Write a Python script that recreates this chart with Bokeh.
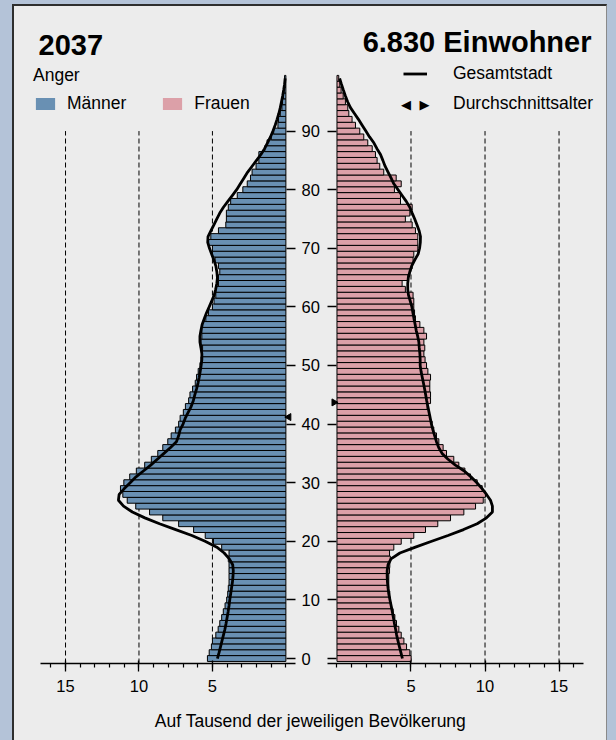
import numpy as np
from bokeh.plotting import figure
from bokeh.models import Range1d, FixedTicker, Legend, LegendItem, Label
from bokeh.layouts import row, column
from bokeh.embed import file_html
from bokeh.resources import INLINE

# ---------------- data ----------------
ages = list(range(100))

male = [5.34, 5.22, 5.07, 5.00, 4.77, 4.61, 4.50, 4.37, 4.26, 4.14,
        4.03, 3.96, 3.92, 3.87, 3.87, 3.87, 3.87, 3.92, 3.87, 4.37,
        4.93, 5.49, 6.28, 7.30, 8.38, 9.28, 10.22, 10.80, 11.10, 11.26,
        11.03, 10.63, 10.18, 9.61, 9.16, 8.72, 8.38, 8.04, 7.81, 7.52,
        7.30, 7.20, 6.98, 6.84, 6.62, 6.53, 6.35, 6.17, 6.08, 5.97,
        5.85, 5.78, 5.72, 5.67, 5.78, 5.72, 5.72, 5.67, 5.45, 5.27,
        5.00, 4.89, 4.77, 4.77, 4.59, 4.59, 4.50, 4.59, 4.82, 5.00,
        5.00, 5.27, 5.11, 4.59, 4.09, 4.05, 4.05, 3.92, 3.76, 3.31,
        2.93, 2.63, 2.41, 2.30, 2.03, 1.84, 1.84, 1.44, 1.28, 0.99,
        0.83, 0.54, 0.50, 0.38, 0.27, 0.23, 0.16, 0.14, 0.09, 0.09]

female = [5.01, 4.92, 4.70, 4.52, 4.34, 4.18, 4.02, 3.91, 3.79, 3.68,
          3.61, 3.57, 3.50, 3.50, 3.50, 3.55, 3.57, 3.60, 3.55, 3.84,
          4.34, 5.19, 5.98, 6.81, 7.67, 8.57, 9.36, 9.88, 10.03, 9.81,
          9.47, 9.02, 8.64, 8.23, 7.89, 7.40, 7.17, 6.88, 6.72, 6.54,
          6.43, 6.32, 6.20, 6.09, 6.32, 6.32, 6.27, 6.27, 6.32, 6.14,
          6.05, 5.95, 5.87, 5.93, 5.87, 6.05, 5.87, 5.60, 5.30, 5.24,
          5.19, 5.19, 5.14, 4.62, 4.40, 4.79, 4.92, 5.08, 5.14, 5.19,
          5.46, 5.46, 5.46, 5.30, 5.08, 4.62, 4.92, 5.08, 4.29, 4.29,
          3.88, 4.34, 4.00, 3.16, 2.89, 2.71, 2.60, 2.38, 2.08, 1.81,
          1.54, 1.25, 1.02, 0.80, 0.73, 0.57, 0.42, 0.28, 0.19, 0.12]

city_male = [4.66, 4.55, 4.45, 4.35, 4.25, 4.15, 4.07, 4.00, 3.93, 3.87,
             3.82, 3.76, 3.70, 3.64, 3.60, 3.58, 3.62, 3.85, 4.20, 4.70,
             5.50, 6.40, 7.50, 8.60, 9.60, 10.45, 11.05, 11.40, 11.35, 11.00,
             10.60, 10.20, 9.70, 9.20, 8.75, 8.30, 7.85, 7.45, 7.30, 7.20,
             7.00, 6.85, 6.65, 6.45, 6.30, 6.20, 6.08, 5.98, 5.90, 5.83,
             5.77, 5.72, 5.72, 5.78, 5.85, 5.85, 5.78, 5.70, 5.55, 5.40,
             5.22, 5.05, 4.88, 4.78, 4.70, 4.66, 4.70, 4.77, 4.90, 5.05,
             5.20, 5.32, 5.30, 5.10, 4.90, 4.70, 4.50, 4.25, 3.95, 3.65,
             3.35, 3.10, 2.85, 2.60, 2.30, 2.00, 1.70, 1.45, 1.25, 1.05,
             0.88, 0.73, 0.60, 0.48, 0.38, 0.30, 0.22, 0.15, 0.09, 0.05]

city_female = [4.42, 4.32, 4.22, 4.12, 4.03, 3.96, 3.88, 3.81, 3.74, 3.66,
               3.58, 3.50, 3.45, 3.41, 3.39, 3.39, 3.45, 3.65, 4.25, 5.30,
               6.40, 7.50, 8.55, 9.47, 10.10, 10.50, 10.50, 10.37, 10.10, 9.80,
               9.45, 9.05, 8.60, 8.00, 7.50, 7.10, 6.87, 6.72, 6.60, 6.48,
               6.38, 6.30, 6.22, 6.14, 6.06, 5.99, 5.92, 5.84, 5.76, 5.68,
               5.62, 5.62, 5.60, 5.56, 5.53, 5.45, 5.35, 5.28, 5.20, 5.13,
               5.06, 4.95, 4.83, 4.78, 4.78, 4.82, 4.92, 5.05, 5.25, 5.48,
               5.58, 5.63, 5.64, 5.55, 5.40, 5.25, 5.08, 4.92, 4.68, 4.40,
               4.12, 3.84, 3.65, 3.45, 3.25, 3.10, 2.94, 2.70, 2.49, 2.20,
               1.95, 1.70, 1.45, 1.18, 0.91, 0.72, 0.57, 0.43, 0.30, 0.18]

mean_age_male = 41.2
mean_age_female = 43.7

x_ticks = [5, 10, 15]
x_minor_ticks = list(range(0, 17))
age_ticks = list(range(0, 100, 10))

year_text = "2037"
total_text = "6.830 Einwohner"
district_text = "Anger"
label_male = "Männer"
label_female = "Frauen"
label_city = "Gesamtstadt"
label_mean = "Durchschnittsalter"
x_label = "Auf Tausend der jeweiligen Bevölkerung"

# ---------------- style ----------------
FONT = "Liberation Sans"
BG = "#ececec"
PAGE = "#b4c3d8"
MALE = "#6990b3"
FEMALE = "#dca0a8"
TICK_FS = "16.5px"
TEXT_FS = "17.5px"
marker_gap = 0.2

Y_RANGE = (-0.85, 101.7)
FIG_H = 697
L_AXIS_BOUNDS = (-0.655, 16.71)
R_AXIS_BOUNDS = (-0.64, 16.66)


def style_fig(p, labels_on_y, bounds):
    p.background_fill_color = BG
    p.border_fill_color = BG
    p.outline_line_color = None
    p.grid.visible = False
    xa = p.xaxis[0]
    xa.bounds = bounds
    xa.ticker = FixedTicker(ticks=x_ticks, minor_ticks=x_minor_ticks)
    xa.axis_line_color = "black"
    xa.axis_line_width = 1.3
    xa.major_tick_line_color = "black"
    xa.major_tick_line_width = 1.3
    xa.minor_tick_line_color = "black"
    xa.minor_tick_line_width = 1.2
    xa.major_tick_in = 3
    xa.major_tick_out = 8
    xa.minor_tick_in = 0
    xa.minor_tick_out = 4
    xa.major_label_standoff = 8
    xa.major_label_text_font = FONT
    xa.major_label_text_font_size = TICK_FS
    xa.major_label_text_color = "black"
    ya = p.yaxis[0]
    ya.ticker = FixedTicker(ticks=age_ticks, minor_ticks=[])
    ya.axis_line_color = None
    ya.major_tick_line_color = "black"
    ya.major_tick_line_width = 1.3
    ya.major_tick_in = 9
    ya.major_tick_out = 0
    ya.minor_tick_line_color = None
    ya.major_label_text_font = FONT
    ya.major_label_text_font_size = TICK_FS
    if labels_on_y:
        ya.major_label_text_color = "black"
        ya.major_label_standoff = 6
    else:
        ya.major_label_overrides = {t: "" for t in age_ticks}
        ya.major_label_text_color = None
        ya.major_label_standoff = 0


def style_title(p, text, align, offset, standoff):
    p.title.text = text
    p.title.align = align
    p.title.offset = offset
    p.title.text_font = FONT
    p.title.text_font_size = "29px"
    p.title.text_font_style = "bold"
    p.title.text_color = "black"
    p.title.standoff = standoff


def add_gridlines(p):
    n = len(x_ticks)
    p.segment(x0=x_ticks, x1=x_ticks, y0=[Y_RANGE[0]] * n, y1=[age_ticks[-1]] * n,
              line_color="black", line_width=1, line_dash="5 3")


# ---------------- left (Männer) ----------------
pl = figure(width=308, height=FIG_H, x_range=Range1d(17.52, -0.655), y_range=Range1d(*Y_RANGE),
            toolbar_location=None, output_backend="svg", y_axis_location="right",
            min_border_left=14, min_border_right=25, min_border_top=56, min_border_bottom=40)
style_fig(pl, True, L_AXIS_BOUNDS)
style_title(pl, year_text, "left", 10, 16)

add_gridlines(pl)
pl.hbar(y=ages, left=0, right=male, height=1, fill_color=MALE, line_color="black", line_width=1)
pl.line(x=city_male, y=ages, line_color="black", line_width=2.8)
pl.scatter(x=[-marker_gap], y=[mean_age_male], marker="triangle", angle=np.pi / 2, size=7,
           fill_color="black", line_color="black")

# zero-length bars used only as legend swatches (no outline)
dm = pl.hbar(y=[0], left=[0], right=[0], height=1, fill_color=MALE, line_color=None)
df = pl.hbar(y=[0], left=[0], right=[0], height=1, fill_color=FEMALE, line_color=None)
leg_l = Legend(items=[LegendItem(label=label_male, renderers=[dm]),
                      LegendItem(label=label_female, renderers=[df])],
               orientation="horizontal", title=district_text, location=(5, 549),
               background_fill_alpha=0, border_line_color=None, padding=0, margin=0,
               spacing=34, glyph_width=24, glyph_height=15, label_standoff=10,
               label_text_font=FONT, label_text_font_size=TEXT_FS, label_text_color="black",
               title_text_font=FONT, title_text_font_size=TEXT_FS, title_text_font_style="normal",
               title_text_color="black", title_standoff=7)
pl.add_layout(leg_l)

# ---------------- right (Frauen) ----------------
pr = figure(width=284, height=FIG_H, x_range=Range1d(-0.64, 17.80), y_range=Range1d(*Y_RANGE),
            toolbar_location=None, output_backend="svg", y_axis_location="left",
            min_border_left=5, min_border_right=6, min_border_top=56, min_border_bottom=40)
style_fig(pr, False, R_AXIS_BOUNDS)
style_title(pr, total_text, "right", 9, 10)

add_gridlines(pr)
pr.hbar(y=ages, left=0, right=female, height=1, fill_color=FEMALE, line_color="black", line_width=1)
line_f = pr.line(x=city_female, y=ages, line_color="black", line_width=2.8)
pr.scatter(x=[-marker_gap], y=[mean_age_female], marker="triangle", angle=-np.pi / 2, size=7,
           fill_color="black", line_color="black")

dmean = pr.scatter(x=[0], y=[0], marker="triangle", size=1, fill_alpha=0, line_alpha=0)
leg_r = Legend(items=[LegendItem(label=label_city, renderers=[line_f]),
                      LegendItem(label=label_mean, renderers=[dmean])],
               orientation="vertical", location=(76, 549),
               background_fill_alpha=0, border_line_color=None, padding=0, margin=0,
               spacing=9, glyph_width=24, glyph_height=15, label_standoff=26,
               label_text_font=FONT, label_text_font_size=TEXT_FS, label_text_color="black")
pr.add_layout(leg_r)
for sx, sym in ((78.5, "\u25C0"), (97, "\u25B6")):
    pr.add_layout(Label(x=sx, y=559, x_units="screen", y_units="screen", text=sym,
                        text_font="DejaVu Sans", text_font_size="13px", text_color="black",
                        text_align="center", text_baseline="middle"))

# ---------------- bottom label ----------------
pb = figure(width=592, height=37, x_range=Range1d(0, 1), y_range=Range1d(0, 1),
            toolbar_location=None, output_backend="svg", min_border=0)
pb.axis.visible = False
pb.grid.visible = False
pb.outline_line_color = None
pb.background_fill_color = BG
pb.border_fill_color = BG
pb.title.text = x_label
pb.title.align = "center"
pb.title.offset = 6
pb.title.text_font = FONT
pb.title.text_font_size = TEXT_FS
pb.title.text_font_style = "normal"
pb.title.text_color = "black"

layout = column(row(pl, pr), pb)
layout.margin = (4, 0, 0, 12)
layout.styles = {"background-color": BG, "border-left": "2px solid #2e2e2e",
                 "border-top": "2px solid #2e2e2e", "border-right": "1px solid #8a8a8a"}

html = file_html(layout, INLINE)
html = html.replace("<head>", "<head>\n<style>html,body{margin:0;padding:0;background:" + PAGE +
                    ";overflow:hidden;}</style>", 1)
open("out.html", "w").write(html)
